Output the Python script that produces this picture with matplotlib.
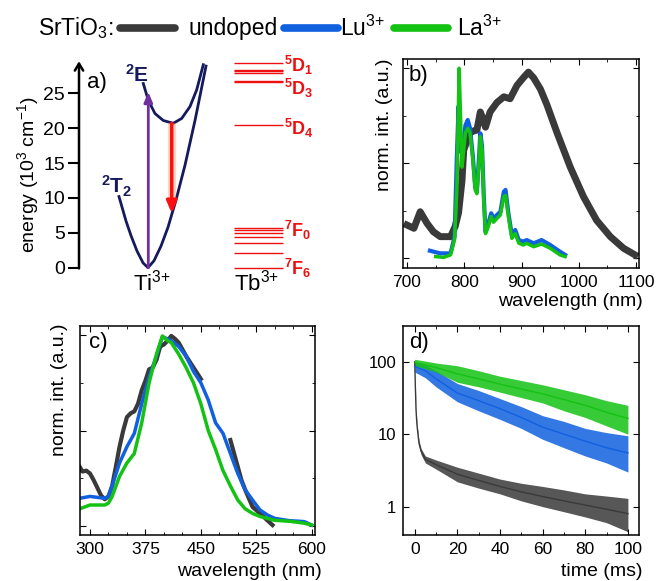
import numpy as np
import matplotlib
matplotlib.use("Agg")
import matplotlib.pyplot as plt
from matplotlib.lines import Line2D
from matplotlib.ticker import MultipleLocator, NullLocator, FixedLocator

plt.rcParams['font.family'] = ['Liberation Sans', 'DejaVu Sans']
plt.rcParams['mathtext.fontset'] = 'custom'
plt.rcParams['mathtext.rm'] = 'Liberation Sans'
plt.rcParams['mathtext.it'] = 'Liberation Sans:italic'
plt.rcParams['mathtext.bf'] = 'Liberation Sans:bold'

# === Colours ===
c_undoped = '#3a3a3a'
c_lu = '#1060e0'
c_la = '#14c214'
c_navy = '#141a5c'
c_red = '#ee1010'

# === Panel a: energy level scheme (energies in 10^3 cm-1) ===
t2_q = [119, 122, 126, 131, 137, 143, 148, 154, 161, 168, 176, 185, 195, 206]
t2_E = [10.2, 8.7, 6.7, 4.6, 2.4, 0.7, 0.0, 1.0, 3.1, 5.8, 9.7, 14.7, 21.1, 28.9]
e_q = [143.3, 148.3, 155, 163.3, 173.3, 181.7, 190, 196.7, 203.3]
e_E = [26.4, 24.0, 22.1, 21.1, 20.7, 21.4, 23.1, 25.5, 29.1]
tb_levels = [29.3, 28.4, 28.2, 27.9, 26.8, 26.6, 20.4, 5.7, 5.4, 5.0, 4.4, 3.5, 2.1, 0.0]
tb_labels = [r'$\mathbf{^{5}D_{1}}$', r'$\mathbf{^{5}D_{3}}$', r'$\mathbf{^{5}D_{4}}$',
             r'$\mathbf{^{7}F_{0}}$', r'$\mathbf{^{7}F_{6}}$']
tb_label_E = [28.0, 24.8, 19.0, 4.4, -1.05]
energy_ticks = [0, 5, 10, 15, 20, 25]

# === Panel b: Ti3+ emission ===
wl_b_undoped = [700, 712, 723, 735, 746, 758, 776, 784, 790, 796, 799, 805, 810, 816, 822, 828,
                833, 837, 845, 857, 869, 880, 892, 903, 912, 921, 933, 944, 962, 985, 1008,
                1031, 1055, 1078, 1098]
b_undoped = [0.175, 0.158, 0.245, 0.184, 0.14, 0.114, 0.114, 0.167, 0.24, 0.41, 0.57, 0.62,
             0.66, 0.67, 0.675, 0.77, 0.73, 0.69, 0.77, 0.82, 0.85, 0.84, 0.91, 0.95, 0.98,
             0.95, 0.89, 0.81, 0.66, 0.48, 0.325, 0.2, 0.114, 0.053, 0.018]
wl_b_lu = [740, 758, 776, 783, 787, 790, 793, 796, 799, 802, 806, 810, 815, 819, 822, 826, 828,
           831, 834, 837, 842, 847, 851, 857, 863, 869, 872, 877, 883, 889, 895, 903, 909, 921,
           935, 950, 967, 976]
b_lu = [0.04, 0.026, 0.026, 0.114, 0.535, 0.8, 0.57, 0.55, 0.62, 0.70, 0.728, 0.685, 0.535,
        0.377, 0.35, 0.55, 0.658, 0.59, 0.33, 0.14, 0.184, 0.237, 0.21, 0.228, 0.245, 0.35,
        0.36, 0.237, 0.123, 0.149, 0.096, 0.088, 0.096, 0.079, 0.096, 0.07, 0.035, 0.018]
wl_b_la = [750, 764, 776, 783, 787, 791, 793, 796, 799, 802, 806, 810, 815, 819, 822, 826, 828,
           831, 834, 837, 842, 847, 851, 857, 863, 869, 872, 877, 883, 889, 895, 903, 909, 921,
           935, 950, 967, 976]
b_la = [0.009, 0.005, 0.018, 0.1, 0.36, 1.0, 0.8, 0.48, 0.57, 0.66, 0.684, 0.66, 0.52, 0.36,
        0.34, 0.52, 0.64, 0.57, 0.31, 0.13, 0.167, 0.22, 0.19, 0.21, 0.228, 0.325, 0.33, 0.22,
        0.105, 0.13, 0.08, 0.07, 0.079, 0.061, 0.075, 0.053, 0.018, 0.009]

# === Panel c: excitation spectra ===
wl_c_undoped = [286, 290, 295, 300, 305, 310, 315, 320, 325, 330, 335, 340, 345, 350, 355, 360,
                365, 370, 375, 380, 385, 390, 395, 400, 405, 410, 415, 420, 430, 440, 450,
                np.nan, 490, 495, 500, 505, 510, 520, 530, 540, 547]
c_undoped_y = [0.31, 0.285, 0.29, 0.275, 0.24, 0.2, 0.16, 0.14, 0.155, 0.21, 0.31, 0.415, 0.5,
               0.57, 0.59, 0.6, 0.64, 0.71, 0.76, 0.82, 0.83, 0.87, 0.94, 0.95, 0.97, 0.995,
               0.98, 0.96, 0.89, 0.83, 0.77, np.nan, 0.45, 0.38, 0.31, 0.24, 0.19, 0.1, 0.066,
               0.03, 0.005]
wl_c = [286, 300, 320, 325, 330, 340, 350, 360, 370, 380, 390, 398, 405, 410, 420, 430, 440,
        450, 460, 470, 480, 490, 500, 510, 520, 530, 540, 550, 570, 590, 600]
c_lu_y = [0.145, 0.155, 0.145, 0.155, 0.21, 0.33, 0.415, 0.485, 0.64, 0.78, 0.89, 0.99, 0.98,
          0.97, 0.94, 0.89, 0.81, 0.75, 0.66, 0.54, 0.485, 0.38, 0.275, 0.19, 0.136, 0.084,
          0.058, 0.04, 0.028, 0.023, 0.005]
c_la_y = [0.09, 0.11, 0.11, 0.12, 0.155, 0.26, 0.33, 0.38, 0.54, 0.75, 0.9, 0.995, 0.97, 0.96,
          0.9, 0.83, 0.75, 0.64, 0.5, 0.4, 0.29, 0.21, 0.136, 0.09, 0.066, 0.05, 0.04, 0.03,
          0.025, 0.015, 0.005]

# === Panel d: decay curves (mid value and noise envelope) ===
t_d = [0, 5, 10, 20, 30, 40, 50, 60, 70, 80, 90, 100]
la_mid = [98, 90, 83, 68, 58, 49, 42, 36, 30, 25, 20, 16.5]
la_hi = [108, 102, 96, 88, 75, 63, 55, 48, 41, 35, 29, 25]
la_lo = [88, 80, 72, 52, 45, 38, 32, 27, 21, 17, 13, 10]
lu_mid = [86, 75, 58, 37, 29, 22.5, 17, 12.5, 10, 8, 6.5, 5.5]
lu_hi = [100, 90, 75, 50, 40, 31, 24, 18, 15, 12, 10.5, 9.5]
lu_lo = [72, 60, 45, 28, 21, 16, 12, 8.5, 6.5, 5.0, 4.0, 3.0]
t_d_undoped = [0, 0.3, 0.6, 1, 1.5, 2, 3, 5, 10, 20, 30, 40, 50, 60, 70, 80, 90, 100]
und_mid = [100, 45, 22, 14, 10, 7.5, 5.8, 4.5, 3.8, 2.8, 2.3, 1.9, 1.6, 1.38, 1.2, 1.05, 0.92, 0.8]
und_hi = [100, 48, 24, 15, 11, 8.2, 6.3, 5.0, 4.4, 3.5, 2.9, 2.4, 2.1, 1.9, 1.7, 1.5, 1.4, 1.3]
und_lo = [95, 42, 20, 13, 9.2, 6.8, 5.2, 4.0, 3.3, 2.2, 1.8, 1.5, 1.2, 1.0, 0.85, 0.72, 0.6, 0.45]

W, H = 661, 581
fig = plt.figure(figsize=(W / 100, H / 100), dpi=100)


def px_axes(left, top, right, bottom):
    return fig.add_axes([left / W, 1 - bottom / H, (right - left) / W, (bottom - top) / H])


def style_spec(ax):
    ax.tick_params(which='both', direction='in', top=True, right=True, labelsize=12.5, pad=5)
    ax.tick_params(which='major', length=4)
    ax.tick_params(which='minor', length=2.5)
    for s in ax.spines.values():
        s.set_linewidth(1.1)


# --- legend row ---
fig.text(38 / W, 1 - 28 / H, r'SrTiO$_3$:', fontsize=16.5, va='center', ha='left')
for (x0, x1), col in zip([(120, 175), (284, 338), (394, 448)], [c_undoped, c_lu, c_la]):
    fig.add_artist(Line2D([x0 / W, x1 / W], [1 - 28 / H] * 2, color=col, lw=5.5,
                          solid_capstyle='round', transform=fig.transFigure))
for x, s in zip([188, 340, 457], ['undoped', r'Lu$^{3{+}}$', r'La$^{3{+}}$']):
    fig.text(x / W, 1 - 28 / H, s, fontsize=16.5, va='center', ha='left')

# --- panel a ---
axa = px_axes(79, 55, 330, 295)
axa.set_xlim(79, 330)
axa.set_ylim(-3.91, 30.49)
for s in ['top', 'right', 'bottom', 'left']:
    axa.spines[s].set_visible(False)
axa.set_xticks([])
axa.set_yticks(energy_ticks)
axa.tick_params(axis='y', direction='out', length=8, width=1.5, labelsize=14, pad=2)
axa.annotate('', xy=(79, 29.6), xytext=(79, -0.1),
             arrowprops=dict(arrowstyle='->,head_length=0.5,head_width=0.3', lw=1.8, color='k',
                             shrinkA=0, shrinkB=0), annotation_clip=False)
axa.set_ylabel(r'energy (10$^3$ cm$^{-1}$)', fontsize=14, labelpad=2)
axa.plot(t2_q, t2_E, color=c_navy, lw=2)
axa.plot(e_q, e_E, color=c_navy, lw=2)
axa.annotate('', xy=(148.3, 25.2), xytext=(148.3, 0),
             arrowprops=dict(arrowstyle='-|>,head_length=0.6,head_width=0.25', lw=2,
                             color='#7030a0', shrinkA=0, shrinkB=0))
axa.plot([171.7, 171.7], [20.7, 9.5], color='#ff9a70', lw=6, alpha=0.4, solid_capstyle='butt')
axa.annotate('', xy=(171.7, 7.8), xytext=(171.7, 20.7),
             arrowprops=dict(arrowstyle='-|>,head_length=0.7,head_width=0.3', lw=2.5,
                             color='#ff1010', shrinkA=0, shrinkB=0))
axa.hlines(tb_levels, 234, 283, color=c_red, lw=1.0)
for s, e in zip(tb_labels, tb_label_E):
    axa.text(284, e, s, color=c_red, fontsize=13, ha='left', va='baseline')
axa.text(137, 26.6, r'$\mathbf{^{2}E}$', color=c_navy, fontsize=15, ha='center', va='baseline')
axa.text(117, 10.7, r'$\mathbf{^{2}T_{2}}$', color=c_navy, fontsize=15, ha='center',
         va='baseline')
axa.text(87, 25.8, 'a)', fontsize=16, ha='left', va='baseline')
axa.text(152, -3.2, r'Ti$^{3{+}}$', fontsize=16, ha='center', va='baseline')
axa.text(257, -3.2, r'Tb$^{3{+}}$', fontsize=16, ha='center', va='baseline')

# --- panel b ---
axb = px_axes(403, 59, 639, 268)
axb.plot(wl_b_undoped, b_undoped, color=c_undoped, lw=5)
axb.plot(wl_b_lu, b_lu, color=c_lu, lw=3)
axb.plot(wl_b_la, b_la, color=c_la, lw=2.5)
axb.set_xlim(693, 1105)
axb.set_ylim(-0.051, 1.049)
axb.xaxis.set_major_locator(MultipleLocator(100))
axb.xaxis.set_minor_locator(MultipleLocator(50))
axb.yaxis.set_major_locator(MultipleLocator(0.5))
axb.yaxis.set_minor_locator(MultipleLocator(0.25))
axb.set_yticklabels([])
style_spec(axb)
axb.set_xlabel('wavelength (nm)', fontsize=14, loc='right')
axb.xaxis.set_label_coords(1.017, -0.12)
axb.set_ylabel('norm. int. (a.u.)', fontsize=14, loc='top')
axb.yaxis.set_label_coords(-0.042, 1.0)
axb.text(0.025, 0.97, 'b)', transform=axb.transAxes, fontsize=16, va='top')

# --- panel c ---
axc = px_axes(80, 326, 315, 535)
axc.plot(wl_c_undoped, c_undoped_y, color=c_undoped, lw=3)
axc.plot(wl_c, c_lu_y, color=c_lu, lw=2.5)
axc.plot(wl_c, c_la_y, color=c_la, lw=2.5)
axc.set_xlim(286.5, 604.5)
axc.set_ylim(-0.047, 1.047)
axc.xaxis.set_major_locator(FixedLocator([300, 375, 450, 525, 600]))
axc.xaxis.set_minor_locator(MultipleLocator(25))
axc.yaxis.set_major_locator(MultipleLocator(0.5))
axc.yaxis.set_minor_locator(MultipleLocator(0.25))
axc.set_yticklabels([])
style_spec(axc)
axc.set_xlabel('wavelength (nm)', fontsize=14, loc='right')
axc.xaxis.set_label_coords(1.03, -0.134)
axc.set_ylabel('norm. int. (a.u.)', fontsize=14, loc='top')
axc.yaxis.set_label_coords(-0.05, 1.01)
axc.text(0.04, 0.97, 'c)', transform=axc.transAxes, fontsize=16, va='top')

# --- panel d ---
axd = px_axes(403, 326, 639, 535)
for t, lo, hi, mid, col in [(t_d_undoped, und_lo, und_hi, und_mid, c_undoped),
                            (t_d, lu_lo, lu_hi, lu_mid, c_lu),
                            (t_d, la_lo, la_hi, la_mid, c_la)]:
    axd.fill_between(t, lo, hi, color=col, alpha=0.85, lw=0)
    axd.plot(t, mid, color=col, lw=1)
axd.set_yscale('log')
axd.set_xlim(-5.5, 105.2)
axd.set_ylim(0.406, 311)
axd.xaxis.set_major_locator(MultipleLocator(20))
axd.xaxis.set_minor_locator(MultipleLocator(10))
axd.yaxis.set_major_locator(FixedLocator([1, 10, 100]))
axd.yaxis.set_minor_locator(NullLocator())
axd.set_yticklabels(['1', '10', '100'])
style_spec(axd)
axd.tick_params(axis='y', labelsize=12)
axd.set_xlabel('time (ms)', fontsize=14, loc='right')
axd.xaxis.set_label_coords(1.013, -0.134)
axd.text(0.025, 0.97, 'd)', transform=axd.transAxes, fontsize=16, va='top')

fig.savefig('out.png', dpi=100)
